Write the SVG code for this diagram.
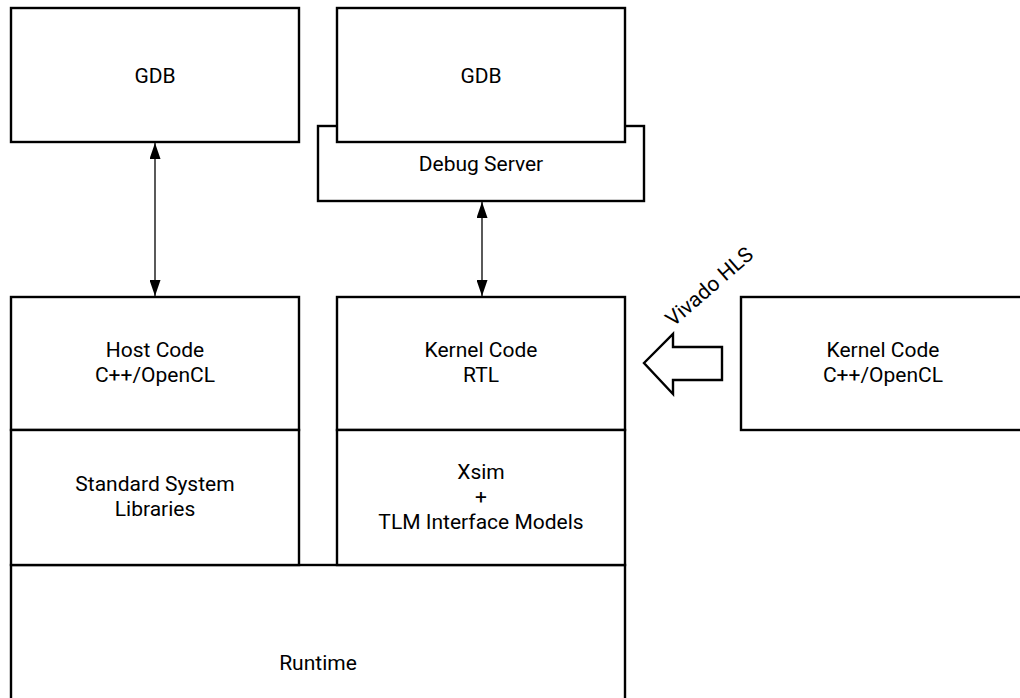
<svg xmlns="http://www.w3.org/2000/svg" width="1020" height="698" viewBox="0 0 1020 698">
  <style>
    .box { fill: #fff; stroke: #000; stroke-width: 2.4; }
    .lbl { font-family: Roboto, "Liberation Sans", sans-serif; font-size: 21px; fill: #000; text-anchor: middle; }
    .conn { stroke: #000; stroke-width: 1.3; fill: none; marker-start: url(#head); marker-end: url(#head); }
    .block { fill: #fff; stroke: #000; stroke-width: 2.4; stroke-linejoin: miter; }
  </style>
  <defs>
    <marker id="head" viewBox="0 0 16 11" markerWidth="16" markerHeight="11" refX="16" refY="5.5" markerUnits="userSpaceOnUse" orient="auto-start-reverse">
      <path d="M0,0 L16,5.5 L0,11 z" fill="#000"/>
    </marker>
  </defs>
  <rect width="1020" height="698" fill="#fff"/>

  <g id="gdb-host">
    <rect class="box" x="11" y="8" width="288" height="134"/>
    <text class="lbl" x="155" y="82.5">GDB</text>
  </g>

  <g id="debug-server">
    <rect class="box" x="318" y="126" width="326" height="75"/>
    <text class="lbl" x="481" y="171">Debug Server</text>
  </g>

  <g id="gdb-kernel">
    <rect class="box" x="337" y="8" width="288" height="134"/>
    <text class="lbl" x="481" y="82.5">GDB</text>
  </g>

  <g id="runtime">
    <rect class="box" x="11" y="565" width="614" height="200"/>
    <text class="lbl" x="318" y="669.5">Runtime</text>
  </g>

  <g id="host-code">
    <rect class="box" x="11" y="297" width="288" height="133"/>
    <text class="lbl" x="155" y="357">Host Code</text>
    <text class="lbl" x="155" y="382">C++/OpenCL</text>
  </g>

  <g id="std-libs">
    <rect class="box" x="11" y="430" width="288" height="135"/>
    <text class="lbl" x="155" y="491">Standard System</text>
    <text class="lbl" x="155" y="516">Libraries</text>
  </g>

  <g id="kernel-rtl">
    <rect class="box" x="337" y="297" width="288" height="133"/>
    <text class="lbl" x="481" y="357">Kernel Code</text>
    <text class="lbl" x="481" y="382">RTL</text>
  </g>

  <g id="xsim">
    <rect class="box" x="337" y="430" width="288" height="135"/>
    <text class="lbl" x="481" y="478.5">Xsim</text>
    <text class="lbl" x="481" y="503.5">+</text>
    <text class="lbl" x="481" y="528.5">TLM Interface Models</text>
  </g>

  <g id="kernel-cpp">
    <rect class="box" x="741" y="297" width="290" height="133"/>
    <text class="lbl" x="883" y="357">Kernel Code</text>
    <text class="lbl" x="883" y="382">C++/OpenCL</text>
  </g>

  <g id="connectors">
    <line class="conn" x1="155" y1="143" x2="155" y2="296"/>
    <line class="conn" x1="482" y1="202" x2="482" y2="296"/>
    <polygon class="block" points="644,363 673,334 673,347 722,347 722,380 673,380 673,394"/>
    <text class="lbl" transform="translate(714,292) rotate(-41)" x="0" y="0">Vivado HLS</text>
  </g>
</svg>
